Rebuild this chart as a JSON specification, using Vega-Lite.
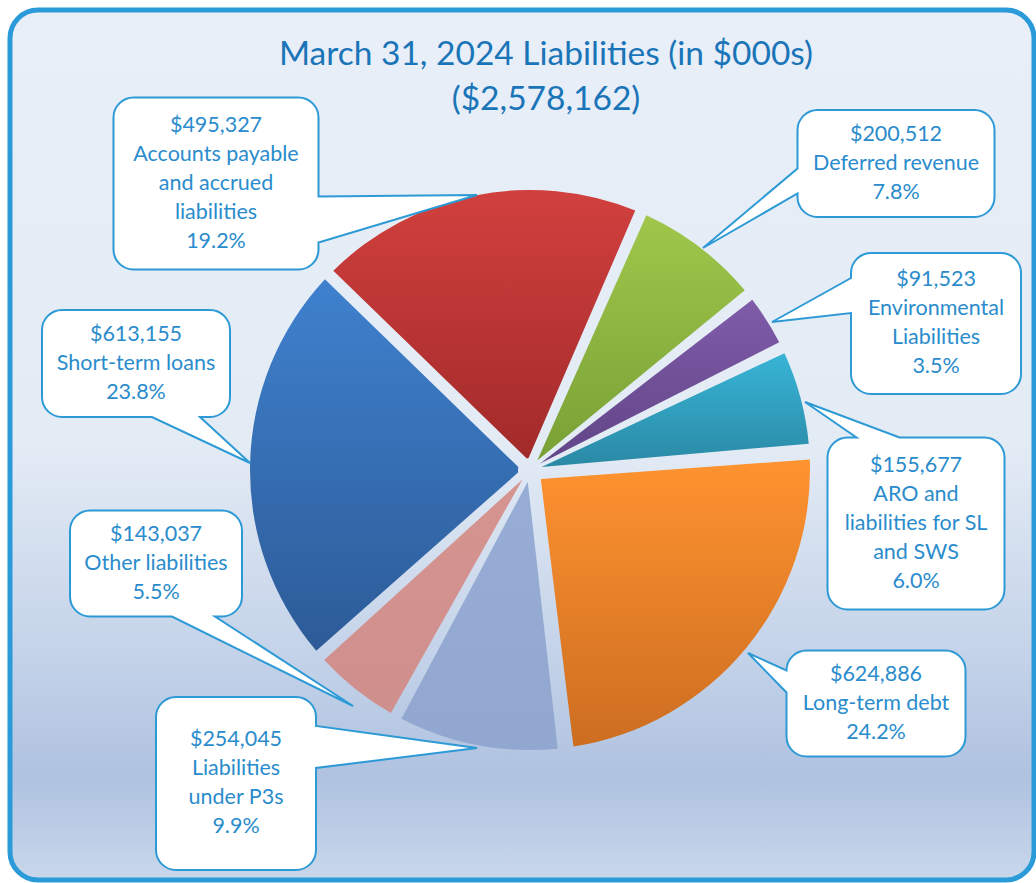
{
  "$schema": "https://vega.github.io/schema/vega-lite/v6.json",
  "width": 1024,
  "height": 870,
  "autosize": {"type": "none"},
  "padding": {"left": 10, "top": 10, "right": 2, "bottom": 3},
  "background": "white",
  "view": {
    "fill": {"gradient": "linear", "x1": 0, "y1": 0, "x2": 0, "y2": 1,
      "stops": [
        {"offset": 0, "color": "#e8eff8"},
        {"offset": 0.5, "color": "#e3ebf5"},
        {"offset": 0.74, "color": "#c4d3e9"},
        {"offset": 0.88, "color": "#afc2e0"},
        {"offset": 1, "color": "#c8d7eb"}
      ]},
    "stroke": "#2a9ad8",
    "strokeWidth": 5,
    "cornerRadius": 28
  },
  "title": {
    "text": ["March 31, 2024 Liabilities (in $000s)", "($2,578,162)"],
    "anchor": "middle",
    "frame": "group",
    "orient": "top",
    "offset": -107,
    "baseline": "top",
    "dx": 24,
    "font": "Lato",
    "fontSize": 33.5,
    "fontWeight": "normal",
    "color": "#1a75b8",
    "lineHeight": 45
  },
  "data": {
    "values": [
      {"category": "Deferred revenue", "value": 200512, "share": "7.8%", "label": "$200,512\nDeferred revenue\n7.8%"},
      {"category": "Environmental Liabilities", "value": 91523, "share": "3.5%", "label": "$91,523\nEnvironmental\nLiabilities\n3.5%"},
      {"category": "ARO and liabilities for SL and SWS", "value": 155677, "share": "6.0%", "label": "$155,677\nARO and\nliabilities for SL\nand SWS\n6.0%"},
      {"category": "Long-term debt", "value": 624886, "share": "24.2%", "label": "$624,886\nLong-term debt\n24.2%"},
      {"category": "Liabilities under P3s", "value": 254045, "share": "9.9%", "label": "$254,045\nLiabilities\nunder P3s\n9.9%"},
      {"category": "Other liabilities", "value": 143037, "share": "5.5%", "label": "$143,037\nOther liabilities\n5.5%"},
      {"category": "Short-term loans", "value": 613155, "share": "23.8%", "label": "$613,155\nShort-term loans\n23.8%"},
      {"category": "Accounts payable and accrued liabilities", "value": 495327, "share": "19.2%", "label": "$495,327\nAccounts payable\nand accrued\nliabilities\n19.2%"}
    ]
  },
  "transform": [
    {"stack": "value", "groupby": [], "as": ["v0", "v1"]}
  ],
  "layer": [
    {
      "transform": [{"filter": {"field": "category", "equal": "Deferred revenue"}}],
      "mark": {"type": "arc", "outerRadius": 280, "innerRadius": 12, "padAngle": 0.043, "xOffset": 8, "yOffset": 25,
        "fill": {"gradient": "linear", "x1": 0, "y1": 0, "x2": 0, "y2": 1, "stops": [{"offset": 0, "color": "#a0c74b"}, {"offset": 1, "color": "#78a035"}]}},
      "encoding": {"theta": {"field": "v0", "type": "quantitative", "scale": {"domain": [0, 2578162], "range": [0.407, 6.690]}}, "theta2": {"field": "v1"}}
    },
    {
      "transform": [{"filter": {"field": "category", "equal": "Environmental Liabilities"}}],
      "mark": {"type": "arc", "outerRadius": 280, "innerRadius": 12, "padAngle": 0.043, "xOffset": 8, "yOffset": 25,
        "fill": {"gradient": "linear", "x1": 0, "y1": 0, "x2": 0, "y2": 1, "stops": [{"offset": 0, "color": "#805ca9"}, {"offset": 1, "color": "#614487"}]}},
      "encoding": {"theta": {"field": "v0", "type": "quantitative", "scale": {"domain": [0, 2578162], "range": [0.407, 6.690]}}, "theta2": {"field": "v1"}}
    },
    {
      "transform": [{"filter": {"field": "category", "equal": "ARO and liabilities for SL and SWS"}}],
      "mark": {"type": "arc", "outerRadius": 280, "innerRadius": 12, "padAngle": 0.043, "xOffset": 8, "yOffset": 25,
        "fill": {"gradient": "linear", "x1": 0, "y1": 0, "x2": 0, "y2": 1, "stops": [{"offset": 0, "color": "#38b4d6"}, {"offset": 1, "color": "#2a89a5"}]}},
      "encoding": {"theta": {"field": "v0", "type": "quantitative", "scale": {"domain": [0, 2578162], "range": [0.407, 6.690]}}, "theta2": {"field": "v1"}}
    },
    {
      "transform": [{"filter": {"field": "category", "equal": "Long-term debt"}}],
      "mark": {"type": "arc", "outerRadius": 280, "innerRadius": 14, "padAngle": 0.07, "xOffset": 8, "yOffset": 25,
        "fill": {"gradient": "linear", "x1": 0, "y1": 0, "x2": 0, "y2": 1, "stops": [{"offset": 0, "color": "#ff9330"}, {"offset": 1, "color": "#cc6d20"}]}},
      "encoding": {"theta": {"field": "v0", "type": "quantitative", "scale": {"domain": [0, 2578162], "range": [0.407, 6.690]}}, "theta2": {"field": "v1"}}
    },
    {
      "transform": [{"filter": {"field": "category", "equal": "Liabilities under P3s"}}],
      "mark": {"type": "arc", "outerRadius": 280, "innerRadius": 12, "padAngle": 0.043, "xOffset": 8, "yOffset": 25,
        "fill": {"gradient": "linear", "x1": 0, "y1": 0, "x2": 0, "y2": 1, "stops": [{"offset": 0, "color": "#98add5"}, {"offset": 1, "color": "#92a7d0"}]}},
      "encoding": {"theta": {"field": "v0", "type": "quantitative", "scale": {"domain": [0, 2578162], "range": [0.407, 6.690]}}, "theta2": {"field": "v1"}}
    },
    {
      "transform": [{"filter": {"field": "category", "equal": "Other liabilities"}}],
      "mark": {"type": "arc", "outerRadius": 280, "innerRadius": 12, "padAngle": 0.043, "xOffset": 8, "yOffset": 25,
        "fill": {"gradient": "linear", "x1": 0, "y1": 0, "x2": 0, "y2": 1, "stops": [{"offset": 0, "color": "#d69490"}, {"offset": 1, "color": "#cf8f8d"}]}},
      "encoding": {"theta": {"field": "v0", "type": "quantitative", "scale": {"domain": [0, 2578162], "range": [0.407, 6.690]}}, "theta2": {"field": "v1"}}
    },
    {
      "transform": [{"filter": {"field": "category", "equal": "Short-term loans"}}],
      "mark": {"type": "arc", "outerRadius": 280, "innerRadius": 12, "padAngle": 0.043, "xOffset": 8, "yOffset": 25,
        "fill": {"gradient": "linear", "x1": 0, "y1": 0, "x2": 0, "y2": 1, "stops": [{"offset": 0, "color": "#3f81ce"}, {"offset": 1, "color": "#2c5b97"}]}},
      "encoding": {"theta": {"field": "v0", "type": "quantitative", "scale": {"domain": [0, 2578162], "range": [0.407, 6.690]}}, "theta2": {"field": "v1"}}
    },
    {
      "transform": [{"filter": {"field": "category", "equal": "Accounts payable and accrued liabilities"}}],
      "mark": {"type": "arc", "outerRadius": 280, "innerRadius": 12, "padAngle": 0.043, "xOffset": 8, "yOffset": 25,
        "fill": {"gradient": "linear", "x1": 0, "y1": 0, "x2": 0, "y2": 1, "stops": [{"offset": 0, "color": "#d1403e"}, {"offset": 1, "color": "#a22a2a"}]}},
      "encoding": {"theta": {"field": "v0", "type": "quantitative", "scale": {"domain": [0, 2578162], "range": [0.407, 6.690]}}, "theta2": {"field": "v1"}}
    },
    {
      "mark": {"type": "point", "filled": true, "fill": "white", "stroke": "#2d9ad6", "strokeWidth": 2, "opacity": 1, "size": 4},
      "encoding": {
        "x": {"field": "category", "type": "nominal", "axis": null,
          "scale": {"type": "point", "padding": 0, "range": [126, 926],
            "domain": ["Short-term loans", "Other liabilities", "_x2", "_x3", "Accounts payable and accrued liabilities", "Liabilities under P3s", "_x6", "_x7", "_x8", "_x9", "_x10", "_x11", "_x12", "_x13", "_x14", "_x15", "_x16", "_x17", "_x18", "_x19", "_x20", "_x21", "_x22", "_x23", "_x24", "_x25", "_x26", "_x27", "_x28", "_x29", "_x30", "_x31", "_x32", "_x33", "_x34", "_x35", "_x36", "Long-term debt", "Deferred revenue", "ARO and liabilities for SL and SWS", "Environmental Liabilities"]}},
        "y": {"field": "category", "type": "nominal", "axis": null,
          "scale": {"type": "point", "padding": 0, "range": [153.5, 773.5],
            "domain": ["Deferred revenue", "Accounts payable and accrued liabilities", "_y2", "_y3", "_y4", "_y5", "_y6", "_y7", "Environmental Liabilities", "_y9", "Short-term loans", "_y11", "_y12", "_y13", "_y14", "_y15", "_y16", "_y17", "ARO and liabilities for SL and SWS", "_y19", "Other liabilities", "_y21", "_y22", "_y23", "_y24", "_y25", "_y26", "Long-term debt", "_y28", "_y29", "_y30", "Liabilities under P3s"]}},
        "shape": {"field": "category", "type": "nominal", "legend": null,
          "scale": {
            "domain": ["Deferred revenue", "Environmental Liabilities", "ARO and liabilities for SL and SWS", "Long-term debt", "Liabilities under P3s", "Other liabilities", "Short-term loans", "Accounts payable and accrued liabilities"],
            "range": [
              "M-78.5,-53.5H78.5A20,20 0 0 1 98.5,-33.5V33.5A20,20 0 0 1 78.5,53.5H-78.5A20,20 0 0 1 -98.5,33.5V30L-193,84.5L-98.5,5V-33.5A20,20 0 0 1 -78.5,-53.5Z",
              "M-65,-70.5H65A20,20 0 0 1 85,-50.5V50.5A20,20 0 0 1 65,70.5H-65A20,20 0 0 1 -85,50.5V-10.5L-164,-1.5L-85,-45.5V-50.5A20,20 0 0 1 -65,-70.5Z",
              "M-68.5,-86H-59.5L-111,-121.5L-16.5,-86H68.5A20,20 0 0 1 88.5,-66V66A20,20 0 0 1 68.5,86H-68.5A20,20 0 0 1 -88.5,66V-66A20,20 0 0 1 -68.5,-86Z",
              "M-69.5,-53H69.5A20,20 0 0 1 89.5,-33V33A20,20 0 0 1 69.5,53H-69.5A20,20 0 0 1 -89.5,33V-11L-128,-50.5L-89.5,-33A20,20 0 0 1 -69.5,-53Z",
              "M-60,-86.5H60A20,20 0 0 1 80,-66.5V-57.5L241,-35.5L80,-15.5V66.5A20,20 0 0 1 60,86.5H-60A20,20 0 0 1 -80,66.5V-66.5A20,20 0 0 1 -60,-86.5Z",
              "M-66,-53H66A20,20 0 0 1 86,-33V33A20,20 0 0 1 66,53H59L197,142.5L16,53H-66A20,20 0 0 1 -86,33V-33A20,20 0 0 1 -66,-53Z",
              "M-74,-53.5H74A20,20 0 0 1 94,-33.5V33.5A20,20 0 0 1 74,53.5H64L114,99.5L16,53.5H-74A20,20 0 0 1 -94,33.5V-33.5A20,20 0 0 1 -74,-53.5Z",
              "M-82.5,-86H82.5A20,20 0 0 1 102.5,-66V13L261,11.5L102.5,59V66A20,20 0 0 1 82.5,86H-82.5A20,20 0 0 1 -102.5,66V-66A20,20 0 0 1 -82.5,-86Z"
            ]
          }}
      }
    },
    {
      "transform": [{"filter": {"field": "category", "oneOf": ["Deferred revenue", "Long-term debt", "Other liabilities", "Short-term loans"]}}],
      "mark": {"type": "text", "font": "Lato", "fontSize": 21.5, "lineHeight": 29, "lineBreak": "\n", "align": "center", "baseline": "middle", "dy": -29, "color": "#2a8ccc"},
      "encoding": {
        "x": {"field": "category", "type": "nominal", "axis": null,
          "scale": {"type": "point", "padding": 0, "range": [126, 926],
            "domain": ["Short-term loans", "Other liabilities", "_x2", "_x3", "Accounts payable and accrued liabilities", "Liabilities under P3s", "_x6", "_x7", "_x8", "_x9", "_x10", "_x11", "_x12", "_x13", "_x14", "_x15", "_x16", "_x17", "_x18", "_x19", "_x20", "_x21", "_x22", "_x23", "_x24", "_x25", "_x26", "_x27", "_x28", "_x29", "_x30", "_x31", "_x32", "_x33", "_x34", "_x35", "_x36", "Long-term debt", "Deferred revenue", "ARO and liabilities for SL and SWS", "Environmental Liabilities"]}},
        "y": {"field": "category", "type": "nominal", "axis": null,
          "scale": {"type": "point", "padding": 0, "range": [153.5, 773.5],
            "domain": ["Deferred revenue", "Accounts payable and accrued liabilities", "_y2", "_y3", "_y4", "_y5", "_y6", "_y7", "Environmental Liabilities", "_y9", "Short-term loans", "_y11", "_y12", "_y13", "_y14", "_y15", "_y16", "_y17", "ARO and liabilities for SL and SWS", "_y19", "Other liabilities", "_y21", "_y22", "_y23", "_y24", "_y25", "_y26", "Long-term debt", "_y28", "_y29", "_y30", "Liabilities under P3s"]}},
        "text": {"field": "label", "type": "nominal"}
      }
    },
    {
      "transform": [{"filter": {"field": "category", "oneOf": ["Environmental Liabilities", "Liabilities under P3s"]}}],
      "mark": {"type": "text", "font": "Lato", "fontSize": 21.5, "lineHeight": 29, "lineBreak": "\n", "align": "center", "baseline": "middle", "dy": -43.5, "color": "#2a8ccc"},
      "encoding": {
        "x": {"field": "category", "type": "nominal", "axis": null,
          "scale": {"type": "point", "padding": 0, "range": [126, 926],
            "domain": ["Short-term loans", "Other liabilities", "_x2", "_x3", "Accounts payable and accrued liabilities", "Liabilities under P3s", "_x6", "_x7", "_x8", "_x9", "_x10", "_x11", "_x12", "_x13", "_x14", "_x15", "_x16", "_x17", "_x18", "_x19", "_x20", "_x21", "_x22", "_x23", "_x24", "_x25", "_x26", "_x27", "_x28", "_x29", "_x30", "_x31", "_x32", "_x33", "_x34", "_x35", "_x36", "Long-term debt", "Deferred revenue", "ARO and liabilities for SL and SWS", "Environmental Liabilities"]}},
        "y": {"field": "category", "type": "nominal", "axis": null,
          "scale": {"type": "point", "padding": 0, "range": [153.5, 773.5],
            "domain": ["Deferred revenue", "Accounts payable and accrued liabilities", "_y2", "_y3", "_y4", "_y5", "_y6", "_y7", "Environmental Liabilities", "_y9", "Short-term loans", "_y11", "_y12", "_y13", "_y14", "_y15", "_y16", "_y17", "ARO and liabilities for SL and SWS", "_y19", "Other liabilities", "_y21", "_y22", "_y23", "_y24", "_y25", "_y26", "Long-term debt", "_y28", "_y29", "_y30", "Liabilities under P3s"]}},
        "text": {"field": "label", "type": "nominal"}
      }
    },
    {
      "transform": [{"filter": {"field": "category", "oneOf": ["ARO and liabilities for SL and SWS", "Accounts payable and accrued liabilities"]}}],
      "mark": {"type": "text", "font": "Lato", "fontSize": 21.5, "lineHeight": 29, "lineBreak": "\n", "align": "center", "baseline": "middle", "dy": -58, "color": "#2a8ccc"},
      "encoding": {
        "x": {"field": "category", "type": "nominal", "axis": null,
          "scale": {"type": "point", "padding": 0, "range": [126, 926],
            "domain": ["Short-term loans", "Other liabilities", "_x2", "_x3", "Accounts payable and accrued liabilities", "Liabilities under P3s", "_x6", "_x7", "_x8", "_x9", "_x10", "_x11", "_x12", "_x13", "_x14", "_x15", "_x16", "_x17", "_x18", "_x19", "_x20", "_x21", "_x22", "_x23", "_x24", "_x25", "_x26", "_x27", "_x28", "_x29", "_x30", "_x31", "_x32", "_x33", "_x34", "_x35", "_x36", "Long-term debt", "Deferred revenue", "ARO and liabilities for SL and SWS", "Environmental Liabilities"]}},
        "y": {"field": "category", "type": "nominal", "axis": null,
          "scale": {"type": "point", "padding": 0, "range": [153.5, 773.5],
            "domain": ["Deferred revenue", "Accounts payable and accrued liabilities", "_y2", "_y3", "_y4", "_y5", "_y6", "_y7", "Environmental Liabilities", "_y9", "Short-term loans", "_y11", "_y12", "_y13", "_y14", "_y15", "_y16", "_y17", "ARO and liabilities for SL and SWS", "_y19", "Other liabilities", "_y21", "_y22", "_y23", "_y24", "_y25", "_y26", "Long-term debt", "_y28", "_y29", "_y30", "Liabilities under P3s"]}},
        "text": {"field": "label", "type": "nominal"}
      }
    }
  ]
}
